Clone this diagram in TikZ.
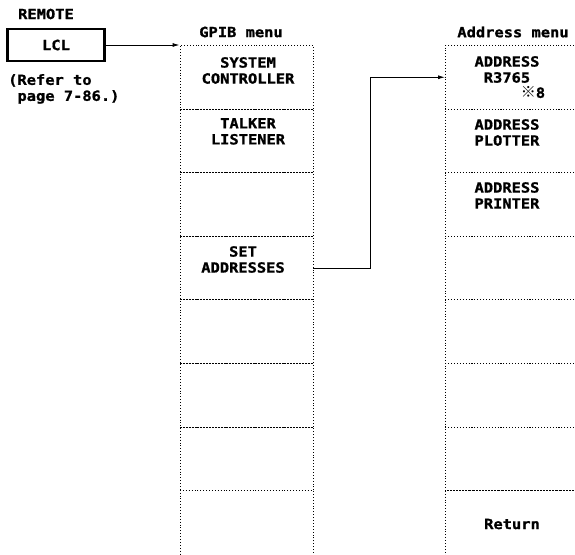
\documentclass[tikz,border=0pt]{standalone}
\usepackage{fontspec}
\newfontfamily\crtfont{DejaVu Sans Mono}[FakeStretch=1.1, FakeBold=1.2]
\newfontfamily\refmarkfont{Noto Sans CJK JP}
\usetikzlibrary{positioning,arrows.meta}
\tikzset{
  menucell/.style={draw, line width=0.9pt, dash pattern=on 0.9pt off 2pt, minimum width=133pt, minimum height=63.6pt, anchor=north, inner sep=0pt},
  addrcell/.style={menucell, minimum width=160pt, anchor=north west},
  keytext/.style={font=\crtfont\bfseries\fontsize{14}{16}\selectfont, align=center, inner sep=0pt, anchor=north},
  lclkey/.style={draw=black, line width=2.6pt, minimum width=97pt, minimum height=32pt, inner sep=0pt},
  linkarrow/.style={-{Latex[length=7pt,width=4pt]}, line width=0.9pt}
}
\begin{document}
\begin{tikzpicture}[x=1pt, y=-1pt]
  \useasboundingbox (0,0) rectangle (575,554);
  % panel key
  \node[keytext, anchor=center] (remote) at (46,14) {REMOTE};
  \node[keytext, lclkey, anchor=center] (lcl) at (56,45) {LCL};
  \node[keytext, anchor=north west, align=left] (refer) at (8,74) {(Refer to\\\hphantom{(}page 7-86.)};
  % GPIB menu
  \node[keytext, anchor=center] (gpibtitle) at (241,32) {GPIB menu};
  \foreach \i in {1,...,7}
    \node[menucell] (g\i) at (246.5,{45+(\i-1)*63.6}) {};
  \node[menucell, minimum height=80pt] (g8) at (246.5,490.2) {};
  \node[keytext] (syscon) at (248,57) {SYSTEM\\CONTROLLER};
  \node[keytext] (talklist) at (248,118) {TALKER\\LISTENER};
  \node[keytext] (setaddr) at (243,246) {SET\\ADDRESSES};
  % Address menu
  \node[keytext, anchor=center] (addrtitle) at (513,32) {Address menu};
  \foreach \i in {1,...,7}
    \node[addrcell] (a\i) at (445,{45+(\i-1)*63.6}) {};
  \node[addrcell, minimum height=80pt] (a8) at (445,490.2) {};
  \node[keytext] (addrown) at (507,56) {ADDRESS\\R3765};
  \node[keytext, anchor=north] (mark8) at (533,86.5) {{\refmarkfont\fontsize{15}{15}\selectfont ※}8};
  \node[keytext] (addrplot) at (507,119) {ADDRESS\\PLOTTER};
  \node[keytext] (addrprint) at (507,182) {ADDRESS\\PRINTER};
  \node[keytext, anchor=center] (ret) at (512,524) {Return};
  % links
  \draw[linkarrow] (lcl.east) -- (g1.north west);
  \draw[linkarrow] (g4.east) -- ++(57,0) |- (a1.west);
\end{tikzpicture}
\end{document}
